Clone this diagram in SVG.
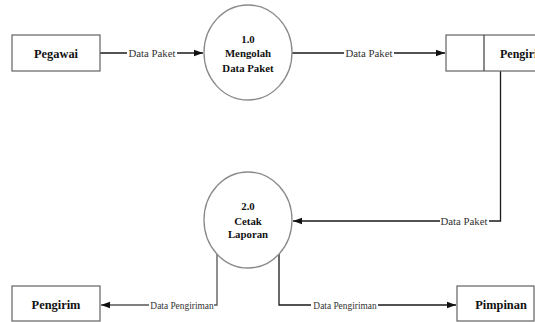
<svg xmlns="http://www.w3.org/2000/svg" width="535" height="322" viewBox="0 0 535 322">
<defs>
<style>
.box{fill:#fff;stroke:#6e6e6e;stroke-width:1.3}
.proc{fill:#fff;stroke:#8a8a8a;stroke-width:1.3}
.t{font-family:'Liberation Serif','DejaVu Serif','Times New Roman',serif;font-weight:bold;fill:#111;text-anchor:middle}
.lbl{font-family:'Liberation Serif','DejaVu Serif','Times New Roman',serif;fill:#333;text-anchor:middle}
.ln{fill:none;stroke:#1a1a1a;stroke-width:1.3}
.lbg{fill:#fff}
</style>
<marker id="ah" markerWidth="10" markerHeight="8" refX="9" refY="4" orient="auto" markerUnits="userSpaceOnUse">
<path d="M0,0.8 L9,4 L0,7.2 Z" fill="#111"/>
</marker>
</defs>
<rect width="535" height="322" fill="#fff"/>

<g id="connectors">
<path class="ln" d="M100,53 H203" marker-end="url(#ah)"/>
<path class="ln" d="M292,53 H445" marker-end="url(#ah)"/>
<path class="ln" d="M500.5,71 V221 H293" marker-end="url(#ah)"/>
<path class="ln" d="M217,254 V305 H101" marker-end="url(#ah)" style="stroke:#555"/>
<path class="ln" d="M279,254 V305 H456" marker-end="url(#ah)"/>
<rect class="lbg" x="127" y="47" width="50" height="12"/>
<text class="lbl" x="152" y="57" font-size="10.8" font-family="Liberation Serif, DejaVu Serif, serif">Data Paket</text>
<rect class="lbg" x="344" y="47" width="50" height="12"/>
<text class="lbl" x="369" y="57" font-size="10.8" font-family="Liberation Serif, DejaVu Serif, serif">Data Paket</text>
<rect class="lbg" x="440" y="215" width="49" height="12"/>
<text class="lbl" x="464" y="225" font-size="10.8" font-family="Liberation Serif, DejaVu Serif, serif">Data Paket</text>
<rect class="lbg" x="149" y="299" width="65" height="12"/>
<text class="lbl" x="182" y="308.5" font-size="9.4" font-family="Liberation Serif, DejaVu Serif, serif">Data Pengiriman</text>
<rect class="lbg" x="311" y="299" width="67" height="12"/>
<text class="lbl" x="345" y="308.5" font-size="9.4" font-family="Liberation Serif, DejaVu Serif, serif">Data Pengiriman</text>
</g>

<g id="pegawai">
<rect class="box" x="12" y="35" width="88" height="36"/>
<text class="t" x="56" y="57.5" font-size="12.4" font-family="Liberation Serif, DejaVu Serif, serif">Pegawai</text>
</g>

<g id="proc1">
<ellipse class="proc" cx="248" cy="52.5" rx="44" ry="47.5"/>
<text class="t" x="248" y="43" font-size="10.8" font-family="Liberation Serif, DejaVu Serif, serif">1.0</text>
<text class="t" x="248" y="57" font-size="10.8" font-family="Liberation Serif, DejaVu Serif, serif">Mengolah</text>
<text class="t" x="248" y="72" font-size="10.8" font-family="Liberation Serif, DejaVu Serif, serif">Data Paket</text>
</g>

<g id="store">
<rect class="box" x="446" y="35" width="100" height="36"/>
<line x1="484" y1="35" x2="484" y2="71" stroke="#4a4a4a" stroke-width="1.3"/>
<text class="t" x="500" y="57.5" font-size="12" font-family="Liberation Serif, DejaVu Serif, serif" style="text-anchor:start">Pengiriman</text>
</g>

<g id="proc2">
<ellipse class="proc" cx="248" cy="220" rx="44" ry="48"/>
<text class="t" x="248" y="210" font-size="10.8" font-family="Liberation Serif, DejaVu Serif, serif">2.0</text>
<text class="t" x="248" y="225" font-size="10.8" font-family="Liberation Serif, DejaVu Serif, serif">Cetak</text>
<text class="t" x="248" y="238" font-size="10.8" font-family="Liberation Serif, DejaVu Serif, serif">Laporan</text>
</g>

<g id="pengirim">
<rect class="box" x="12" y="286" width="88" height="35"/>
<text class="t" x="56" y="309" font-size="12.4" font-family="Liberation Serif, DejaVu Serif, serif">Pengirim</text>
</g>

<g id="pimpinan">
<rect class="box" x="457" y="286" width="77" height="35"/>
<text class="t" x="501" y="309" font-size="12.4" font-family="Liberation Serif, DejaVu Serif, serif">Pimpinan</text>
</g>
</svg>
